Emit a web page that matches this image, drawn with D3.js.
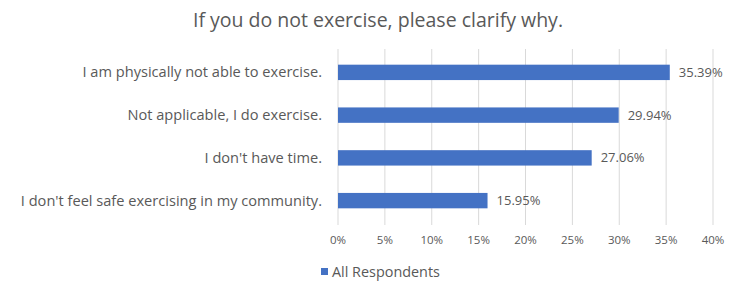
<!DOCTYPE html>
<html>
<head>
<meta charset="utf-8">
<script src="https://cdnjs.cloudflare.com/ajax/libs/d3/7.8.2/d3.min.js"></script>
<style>
  body { margin: 0; background: #fff; }
  svg text { font-family: "Open Sans", sans-serif; fill: #595959; }
</style>
</head>
<body>
<svg id="chart" width="730" height="285"></svg>
<script>
const categories = [
  "I am physically not able to exercise.",
  "Not applicable, I do exercise.",
  "I don't have time.",
  "I don't feel safe exercising in my community."
];
const values = [35.39, 29.94, 27.06, 15.95];
const ticks = [0, 5, 10, 15, 20, 25, 30, 35, 40];
const seriesName = "All Respondents";
const title = "If you do not exercise, please clarify why.";

const BAR_COLOR = "#4472C4";
const GRID_COLOR = "#d9d9d9";

const svg = d3.select("#chart");

const x = d3.scaleLinear().domain([0, 40]).range([338, 713]);
const y = d3.scaleBand().domain(categories).range([51, 222]).paddingInner(0.64).paddingOuter(0.32);

// title
svg.append("text")
  .attr("x", 378).attr("y", 27)
  .attr("text-anchor", "middle")
  .style("font-size", "19.5px")
  .text(title);

// gridlines
svg.append("g").selectAll("line")
  .data(ticks).enter().append("line")
  .attr("x1", d => x(d)).attr("x2", d => x(d))
  .attr("y1", 49).attr("y2", 225)
  .attr("stroke", GRID_COLOR).attr("stroke-width", 1);

// x tick labels
svg.append("g").selectAll("text")
  .data(ticks).enter().append("text")
  .attr("x", d => x(d)).attr("y", 244)
  .attr("text-anchor", "middle")
  .style("font-size", "11.5px")
  .text(d => d + "%");

// category labels
svg.append("g").selectAll("text")
  .data(categories).enter().append("text")
  .attr("x", 322)
  .attr("y", d => y(d) + y.bandwidth() / 2)
  .attr("dy", "0.35em")
  .attr("text-anchor", "end")
  .style("font-size", "14.6px")
  .text(d => d);

// bars
const rows = categories.map((c, i) => ({ cat: c, val: values[i] }));
svg.append("g").selectAll("rect")
  .data(rows).enter().append("rect")
  .attr("x", x(0))
  .attr("y", d => y(d.cat))
  .attr("width", d => x(d.val) - x(0))
  .attr("height", y.bandwidth())
  .attr("fill", BAR_COLOR);

// value labels
svg.append("g").selectAll("text")
  .data(rows).enter().append("text")
  .attr("x", d => x(d.val) + 9)
  .attr("y", d => y(d.cat) + y.bandwidth() / 2)
  .attr("dy", "0.35em")
  .style("font-size", "13px")
  .text(d => d.val.toFixed(2) + "%");

// legend
const legend = svg.append("g").attr("transform", "translate(320,272)");
legend.append("rect").attr("x", 1).attr("y", -4).attr("width", 7).attr("height", 7).attr("fill", BAR_COLOR);
legend.append("text").attr("x", 12).attr("y", 0).attr("dy", "0.35em")
  .style("font-size", "14.4px").text(seriesName);
</script>
</body>
</html>
